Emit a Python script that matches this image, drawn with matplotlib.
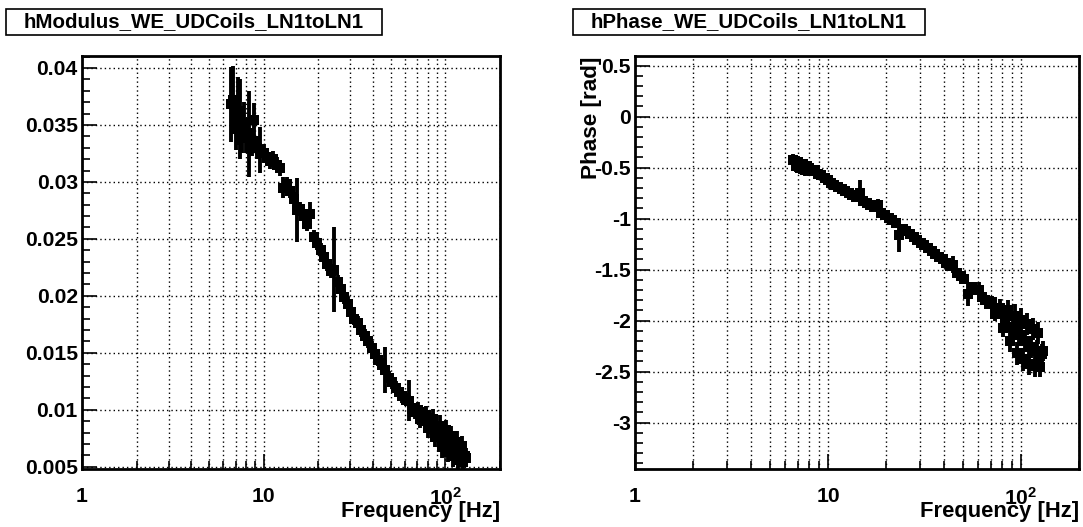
import matplotlib
matplotlib.use("Agg")
import matplotlib.pyplot as plt
from matplotlib.patches import Rectangle
from matplotlib.ticker import FixedLocator, FuncFormatter, LogLocator, MultipleLocator

plt.rcParams['font.family'] = ['Liberation Sans', 'DejaVu Sans']
plt.rcParams['font.weight'] = 'bold'
plt.rcParams['mathtext.fontset'] = 'custom'
plt.rcParams['mathtext.rm'] = 'Liberation Sans:bold'
plt.rcParams['mathtext.bf'] = 'Liberation Sans:bold'

# ---------------- data ----------------
freq_hz = [6.6, 6.8, 7.0, 7.2, 7.4, 7.6, 7.8, 8.0, 8.3, 8.6,
           8.9, 9.2, 9.6, 10.0, 10.4, 10.8, 11.3, 11.8, 12.3, 12.8,
           13.4, 14.0, 14.6, 15.2, 15.9, 16.6, 17.3, 18.1, 18.9, 19.7,
           20.6, 21.5, 22.4, 23.4, 24.4, 25.5, 26.6, 27.8, 29.0, 30.3,
           31.6, 33.0, 34.5, 36.0, 37.6, 39.3, 41.0, 42.8, 44.7, 46.7,
           48.8, 51.0, 53.2, 55.6, 58.0, 60.5, 63.0, 65.5, 68.0, 70.5,
           73.0, 75.5, 78.0, 80.5, 83.0, 85.5, 88.0, 90.5, 93.0, 95.5,
           98.0, 100.5, 103.0, 105.5, 108.0, 110.5, 113.0, 115.5, 118.0, 120.5,
           123.0, 125.5, 128.0, 130.5]

modulus = [0.0368, 0.0372, 0.0350, 0.0362, 0.0355, 0.0345, 0.0352, 0.0340, 0.0342, 0.0335,
           0.0354, 0.0330, 0.0328, 0.0325, 0.0322, 0.0318, 0.0320, 0.0315, 0.0312, 0.0295,
           0.0298, 0.0292, 0.0285, 0.0275, 0.0276, 0.0270, 0.0263, 0.0272, 0.0252, 0.0246,
           0.0240, 0.0234, 0.0228, 0.0222, 0.0223, 0.0212, 0.0206, 0.0199, 0.0193, 0.0186,
           0.0180, 0.0176, 0.0170, 0.0165, 0.0160, 0.0154, 0.0149, 0.0144, 0.0139, 0.0135,
           0.0128, 0.0124, 0.0119, 0.0116, 0.0112, 0.0109, 0.0108, 0.0101, 0.0099, 0.0100,
           0.0092, 0.0094, 0.0095, 0.0084, 0.0088, 0.0092, 0.0076, 0.0081, 0.0086, 0.0067,
           0.0075, 0.0082, 0.0063, 0.0070, 0.0077, 0.0059, 0.0065, 0.0072, 0.0056, 0.0061,
           0.0068, 0.0054, 0.0059, 0.0058]

modulus_err = [0.0033, 0.0030, 0.0022, 0.0030, 0.0035, 0.0020, 0.0018, 0.0015, 0.0038, 0.0012,
               0.0015, 0.0010, 0.0020, 0.0008, 0.0008, 0.0007, 0.0007, 0.0007, 0.0007, 0.0009,
               0.0006, 0.0006, 0.0006, 0.0028, 0.0006, 0.0006, 0.0006, 0.0010, 0.0006, 0.0006,
               0.0006, 0.0006, 0.0006, 0.0006, 0.0037, 0.0006, 0.0006, 0.0006, 0.0006, 0.0006,
               0.0006, 0.0006, 0.0006, 0.0006, 0.0006, 0.0006, 0.0006, 0.0006, 0.0006, 0.0020,
               0.0006, 0.0006, 0.0006, 0.0006, 0.0006, 0.0006, 0.0018, 0.0007, 0.0007, 0.0007,
               0.0008, 0.0008, 0.0008, 0.0009, 0.0009, 0.0009, 0.0009, 0.0009, 0.0009, 0.0009,
               0.0009, 0.0009, 0.0009, 0.0009, 0.0009, 0.0009, 0.0009, 0.0009, 0.0009, 0.0009,
               0.0009, 0.0009, 0.0009, 0.0008]

phase_rad = [-0.42, -0.48, -0.44, -0.50, -0.46, -0.52, -0.48, -0.50, -0.53, -0.52,
             -0.56, -0.57, -0.60, -0.62, -0.65, -0.67, -0.69, -0.71, -0.73, -0.75,
             -0.77, -0.79, -0.745, -0.83, -0.85, -0.87, -0.89, -0.87, -0.94, -0.96,
             -0.99, -1.01, -1.04, -1.16, -1.10, -1.12, -1.15, -1.18, -1.21, -1.24,
             -1.26, -1.29, -1.32, -1.35, -1.38, -1.40, -1.43, -1.46, -1.45, -1.53,
             -1.56, -1.59, -1.74, -1.67, -1.70, -1.70, -1.77, -1.80, -1.84, -1.82,
             -1.93, -1.90, -1.88, -2.07, -1.97, -1.90, -2.20, -2.06, -1.95, -2.32,
             -2.14, -1.99, -2.38, -2.20, -2.03, -2.42, -2.26, -2.08, -2.44, -2.30,
             -2.12, -2.45, -2.33, -2.30]

phase_err = [0.05, 0.06, 0.05, 0.06, 0.05, 0.06, 0.05, 0.05, 0.05, 0.05,
             0.05, 0.04, 0.04, 0.04, 0.04, 0.04, 0.04, 0.04, 0.04, 0.04,
             0.04, 0.04, 0.125, 0.04, 0.04, 0.04, 0.04, 0.06, 0.04, 0.04,
             0.04, 0.04, 0.04, 0.17, 0.04, 0.04, 0.04, 0.04, 0.04, 0.04,
             0.04, 0.04, 0.04, 0.04, 0.04, 0.04, 0.04, 0.04, 0.085, 0.04,
             0.04, 0.04, 0.12, 0.04, 0.04, 0.075, 0.05, 0.05, 0.05, 0.06,
             0.07, 0.07, 0.09, 0.09, 0.09, 0.10, 0.11, 0.11, 0.11, 0.11,
             0.11, 0.11, 0.11, 0.11, 0.11, 0.11, 0.11, 0.11, 0.11, 0.11,
             0.11, 0.10, 0.10, 0.10]

titles = ["hModulus_WE_UDCoils_LN1toLN1", "hPhase_WE_UDCoils_LN1toLN1"]
x_label = "Frequency [Hz]"
phase_label = "Phase [rad]"
mod_ticks = [0.005, 0.01, 0.015, 0.02, 0.025, 0.03, 0.035, 0.04]
phase_ticks = [0.5, 0, -0.5, -1, -1.5, -2, -2.5, -3]

# ---------------- layout ----------------
W, H = 1083, 527
fig = plt.figure(figsize=(W / 100, H / 100), dpi=100)
top_px, bot_px = 56, 469
axL = fig.add_axes([82 / W, (H - bot_px) / H, (500 - 82) / W, (bot_px - top_px) / H])
axR = fig.add_axes([635 / W, (H - bot_px) / H, (1079 - 635) / W, (bot_px - top_px) / H])

FS_TICK = 15.2
FS_LAB = 15.8
FS_TITLE = 14.8
eb_kw = dict(fmt='s', ms=7, color='black', ecolor='black', elinewidth=2.8,
             capsize=3.5, capthick=2.8, mew=0)

axL.errorbar(freq_hz, modulus, yerr=modulus_err, **eb_kw)
axR.errorbar(freq_hz, phase_rad, yerr=phase_err, **eb_kw)

axL.set_ylim(0.0048, 0.04105)
axR.set_ylim(-3.454, 0.595)

def xfmt(v, pos):
    if abs(v - 1) < 1e-9:
        return "1"
    if abs(v - 10) < 1e-9:
        return "10"
    if abs(v - 100) < 1e-9:
        return r"$\mathbf{10^{2}}$"
    return ""

for ax, yt, minor in ((axL, mod_ticks, 0.001), (axR, phase_ticks, 0.1)):
    ax.set_xscale('log')
    ax.set_xlim(1, 200)
    ax.xaxis.set_major_locator(FixedLocator([1, 10, 100]))
    ax.xaxis.set_minor_locator(LogLocator(base=10, subs=[2, 3, 4, 5, 6, 7, 8, 9], numticks=20))
    ax.xaxis.set_major_formatter(FuncFormatter(xfmt))
    ax.xaxis.set_minor_formatter(FuncFormatter(lambda v, p: ""))
    ax.yaxis.set_major_locator(FixedLocator(yt))
    ax.yaxis.set_minor_locator(MultipleLocator(minor))
    ax.yaxis.set_major_formatter(FuncFormatter(lambda v, p: "%g" % round(v, 4)))
    ax.tick_params(axis='both', which='both', direction='in', top=False, right=False,
                   colors='black', width=1.2)
    ax.tick_params(axis='y', which='major', length=11, pad=3, labelsize=FS_TICK)
    ax.tick_params(axis='y', which='minor', length=6)
    ax.tick_params(axis='x', which='major', length=11, pad=13, labelsize=FS_TICK)
    ax.tick_params(axis='x', which='minor', length=6)
    for lab in ax.get_xticklabels() + ax.get_yticklabels():
        lab.set_fontweight('bold')
    ax.grid(True, which='major', axis='both', color='black', linestyle=(0, (1, 2.2)), linewidth=1)
    ax.grid(True, which='minor', axis='x', color='black', linestyle=(0, (1, 2.2)), linewidth=1)
    ax.set_axisbelow(True)
    for sp in ax.spines.values():
        sp.set_linewidth(2)

# axis titles (ROOT style, right/top aligned)
fig.text(500 / W, (H - 512) / H, x_label, ha='right', va='center', fontsize=FS_LAB, fontweight='bold')
fig.text(1079 / W, (H - 512) / H, x_label, ha='right', va='center', fontsize=FS_LAB, fontweight='bold')
fig.text(591 / W, (H - 57) / H, phase_label, ha='center', va='top', rotation=90,
         fontsize=FS_LAB + 0.4, fontweight='bold')

# title boxes
for (x0, x1), txt in (((6, 382), titles[0]), ((573, 925), titles[1])):
    y0, y1 = 9, 35
    fig.patches.append(Rectangle((x0 / W, (H - y1) / H), (x1 - x0) / W, (y1 - y0) / H,
                                 transform=fig.transFigure, facecolor='white',
                                 edgecolor='black', linewidth=1.2))
    fig.text((x0 + x1) / 2 / W, (H - (y0 + y1) / 2) / H, txt, ha='center', va='center',
             fontsize=FS_TITLE, fontweight='bold')

fig.savefig("out.png", dpi=100, facecolor='white')
